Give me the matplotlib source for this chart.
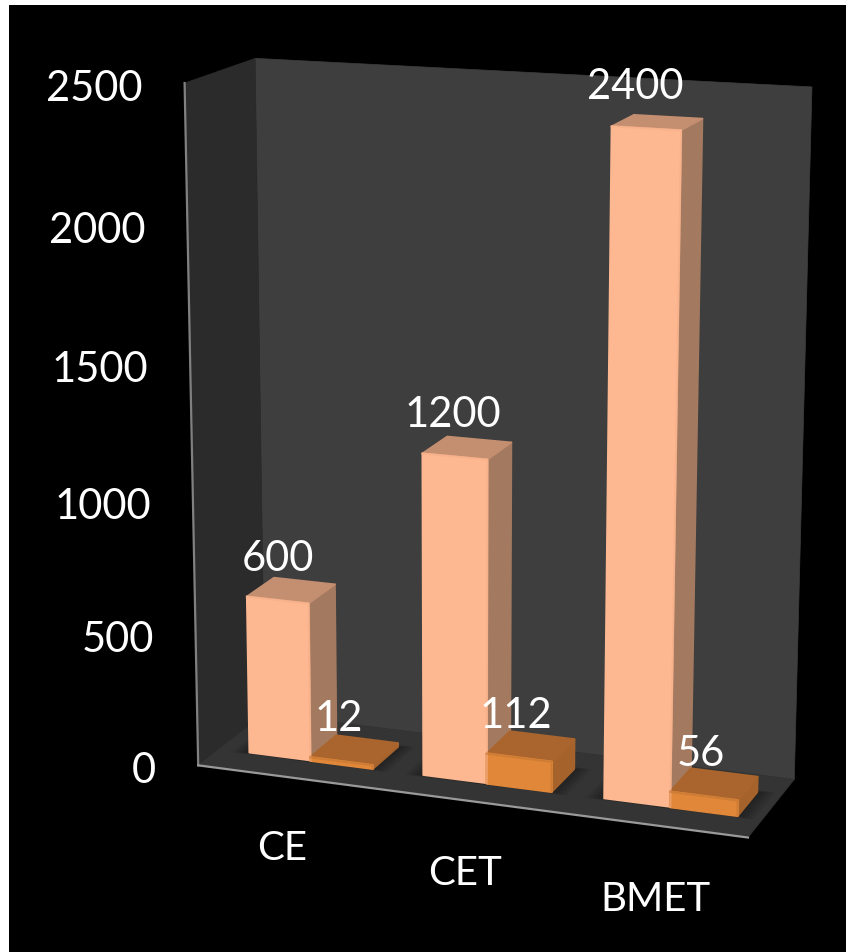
import numpy as np
import matplotlib
matplotlib.use('Agg')
import matplotlib.pyplot as plt
from matplotlib.patches import Polygon

plt.rcParams['font.family'] = ['Lato', 'DejaVu Sans']

categories = ['CE', 'CET', 'BMET']
series1 = [600, 1200, 2400]
series2 = [12, 112, 56]
yticks = [0, 500, 1000, 1500, 2000, 2500]
ymax = 2500.0

w = 0.118
off = 0.058
slot = 0.331
z0, z1 = 0.31, 0.72

# camera fit: box corners (x, y, depth) -> where they sit in the picture
box = [(0, 0, 0), (1, 0, 0), (0, 1, 0), (0, 0, 1), (1, 0, 1), (0, 1, 1), (1, 1, 1)]
px = [(202, 766), (749, 841), (183, 82), (261, 716), (795, 778), (258, 60), (814, 88)]
# third tall bar's front face helps pin the lean of the verticals on the right
x3 = 2*slot + off
box += [(x3, 0.96, z0), (x3+w, 0.96, z0), (x3, 0, z0), (x3+w, 0, z0)]
px += [(609, 128), (680, 132), (603, 799), (670, 807)]

A = []
b = []
for (X, Y, Z), (u, v) in zip(box, px):
    A.append([X, Y, Z, 1, 0, 0, 0, 0, -u*X, -u*Y, -u*Z])
    A.append([0, 0, 0, 0, X, Y, Z, 1, -v*X, -v*Y, -v*Z])
    b += [u, v]
sol = np.linalg.lstsq(np.array(A, float), np.array(b, float), rcond=None)[0]
P = np.append(sol, 1).reshape(3, 4)


def proj(x, val, z):
    p = P @ np.array([x, val/ymax, z, 1.0])
    return p[0]/p[2], p[1]/p[2]


fig = plt.figure(figsize=(8.46, 9.53), dpi=100, facecolor='white')
ax = fig.add_axes([0, 0, 1, 1])
ax.set_xlim(0, 846)
ax.set_ylim(953, 0)
ax.axis('off')
ax.add_patch(plt.Rectangle((9, 6), 837, 947, color='black', lw=0))


def face(pts, color, zorder=2, lw=0.5, **kw):
    ax.add_patch(Polygon([proj(*p) for p in pts], closed=True, facecolor=color,
                         edgecolor=color, lw=lw, zorder=zorder, joinstyle='round', **kw))


# walls + floor
face([(0, 0, 1), (1, 0, 1), (1, ymax, 1), (0, ymax, 1)], '#3e3e3e', 1)
face([(0, 0, 0), (0, 0, 1), (0, ymax, 1), (0, ymax, 0)], '#2b2b2b', 1)
face([(0, 0, 0), (1, 0, 0), (1, 0, 1), (0, 0, 1)], '#343434', 1)
ax.plot(*zip(proj(0, 0, 0), proj(0, ymax, 0)), color='#808080', lw=1.6, zorder=2)
ax.plot(*zip(proj(0, 0, 0), proj(1, 0, 0)), color='#9a9a9a', lw=1.6, zorder=2)


def bar3d(x, val, front, top, side, edge, lw):
    x2 = x + w
    # soft shadow on the floor
    for pad in [0.03, 0.024, 0.018, 0.012, 0.006]:
        face([(x-pad, 0, z0-pad), (x2+pad, 0, z0-pad), (x2+pad, 0, z1+pad), (x-pad, 0, z1+pad)],
             'black', 2, lw=0, alpha=0.07)
    face([(x2, 0, z0), (x2, 0, z1), (x2, val, z1), (x2, val, z0)], side, 3, lw=lw)
    face([(x, val, z0), (x2, val, z0), (x2, val, z1), (x, val, z1)], top, 3, lw=lw)
    face([(x, 0, z0), (x2, 0, z0), (x2, val, z0), (x, val, z0)], front, 3, lw=lw)
    # bevel along the top front and the front side edge
    ax.plot(*zip(proj(x, val, z0), proj(x2, val, z0), proj(x2, 0, z0)), color=edge, lw=1.5,
            zorder=4, solid_joinstyle='round', alpha=0.6)


for i in range(len(categories)):
    x = i*slot + off
    bar3d(x, series1[i], '#fdb891', '#c48f70', '#a37a60', '#f3ae88', 1.2)
    bar3d(x + w, series2[i], '#e0873a', '#a9652d', '#a5622a', '#c47733', 2)

    # value labels: centred on the bar's foot, above the front of the top face
    lx = proj(x + w/2, 0, z0)[0]
    ly = proj(x + w/2, series1[i], z0)[1]
    ax.text(lx - 2, ly - 42, str(series1[i]), color='white', fontsize=30, ha='center', va='center', zorder=5)
    lx = proj(x + w*1.5, 0, z0)[0]
    ly = proj(x + w*1.5, series2[i], z0)[1]
    ax.text(lx - 3, ly - 43, str(series2[i]), color='white', fontsize=30, ha='center', va='center', zorder=5)

    # category labels below the front edge
    lx, ly = proj(x + w, 0, -0.6)
    ax.text(lx + 33, ly + 36, categories[i], color='white', fontsize=29, ha='center', va='center', zorder=5)

for t in yticks:
    lx, ly = proj(0, t, 0)
    ax.text(lx - 42, ly + 5, str(t), color='white', fontsize=30, ha='right', va='center', zorder=5)

fig.savefig('out.png', dpi=100, facecolor='white')
